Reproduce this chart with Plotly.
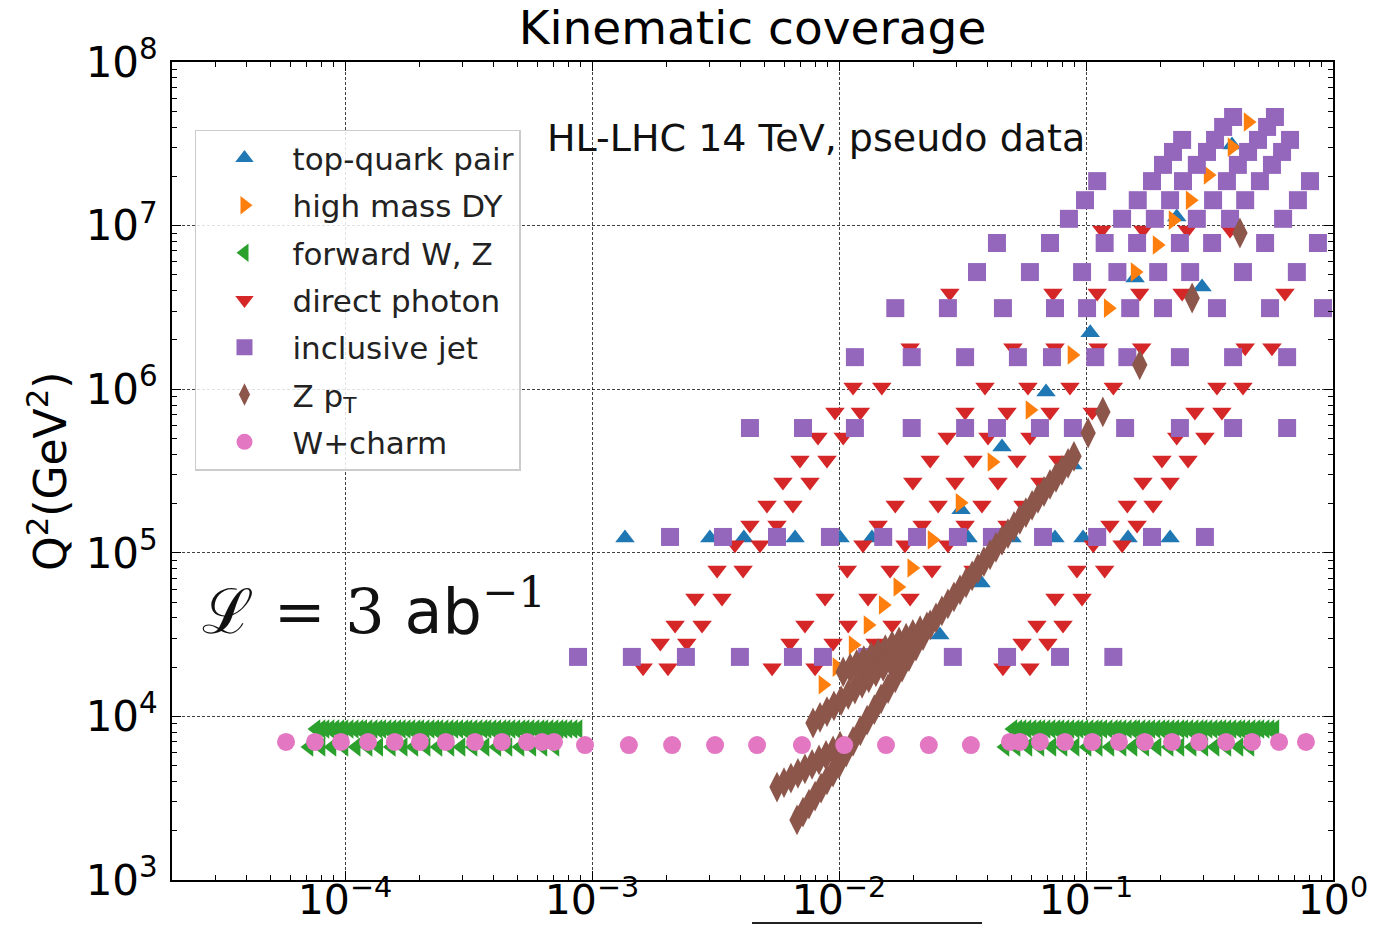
import plotly.graph_objects as go

# ---------------- data ----------------
# top-quark pair (x, Q^2)
top_x = [1.36e-3, 3.00e-3, 4.12e-3, 6.64e-3, 1.01e-2, 1.36e-2, 3.33e-2, 5.02e-2, 7.49e-2, 9.73e-2, 0.148, 0.219,
         2.56e-2, 3.12e-2, 3.76e-2, 4.57e-2, 6.89e-2, 8.85e-2, 0.104, 0.158, 0.233, 0.295, 0.390]
top_q2 = [1.23e5, 1.23e5, 1.23e5, 1.23e5, 1.23e5, 1.23e5, 1.23e5, 1.23e5, 1.23e5, 1.23e5, 1.23e5, 1.23e5,
          3.15e4, 1.83e5, 6.54e4, 4.43e5, 9.61e5, 3.44e5, 2.21e6, 4.78e6, 1.13e7, 4.22e6, 3.11e7]

# high mass Drell-Yan
dy_x = [8.61e-3, 9.81e-3, 1.14e-2, 1.31e-2, 1.51e-2, 1.73e-2, 1.97e-2, 2.38e-2, 3.09e-2, 4.16e-2,
        5.93e-2, 8.77e-2, 0.123, 0.158, 0.194, 0.225, 0.264, 0.312, 0.390, 0.453]
dy_q2 = [1.56e4, 2.00e4, 2.73e4, 3.62e4, 4.80e4, 6.18e4, 8.07e4, 1.20e5, 2.02e5, 3.59e5,
         7.46e5, 1.62e6, 3.13e6, 5.20e6, 7.61e6, 1.08e7, 1.43e7, 2.04e7, 3.02e7, 4.30e7]

# forward W, Z
fw_w_q2 = 6.50e3
fw_w_x = [7.15e-5, 8.00e-5, 8.86e-5, 9.91e-5, 1.11e-4, 1.24e-4, 1.37e-4, 1.54e-4, 1.72e-4, 1.90e-4, 2.13e-4,
          2.38e-4, 2.66e-4, 2.95e-4, 3.30e-4, 3.69e-4, 4.12e-4, 4.57e-4, 5.11e-4, 5.71e-4, 6.33e-4, 7.08e-4,
          4.70e-2, 5.21e-2, 5.82e-2, 6.51e-2, 7.28e-2, 8.07e-2, 9.03e-2, 0.101, 0.112, 0.125, 0.140,
          0.155, 0.173, 0.194, 0.217, 0.240, 0.269, 0.300, 0.333, 0.372, 0.416, 0.461]
fw_z_q2 = 8.37e3
fw_z_x = [7.63e-5, 8.00e-5, 8.30e-5, 8.70e-5, 9.11e-5, 9.54e-5, 9.91e-5, 1.04e-4, 1.09e-4, 1.14e-4,
          1.18e-4, 1.24e-4, 1.30e-4, 1.36e-4, 1.41e-4, 1.48e-4, 1.55e-4, 1.62e-4, 1.69e-4, 1.77e-4,
          1.85e-4, 1.94e-4, 2.01e-4, 2.11e-4, 2.21e-4, 2.31e-4, 2.40e-4, 2.52e-4, 2.64e-4, 2.76e-4,
          2.89e-4, 3.03e-4, 3.15e-4, 3.30e-4, 3.46e-4, 3.62e-4, 3.76e-4, 3.94e-4, 4.12e-4, 4.32e-4,
          4.49e-4, 4.70e-4, 4.92e-4, 5.16e-4, 5.36e-4, 5.61e-4, 5.88e-4, 6.16e-4, 6.39e-4, 6.70e-4,
          7.02e-4, 7.35e-4, 7.63e-4, 7.99e-4, 8.38e-4, 8.78e-4,
          5.06e-2, 5.30e-2, 5.51e-2, 5.77e-2, 6.05e-2, 6.33e-2, 6.57e-2, 6.89e-2, 7.22e-2, 7.56e-2,
          7.85e-2, 8.22e-2, 8.61e-2, 9.03e-2, 9.37e-2, 9.81e-2, 0.103, 0.108, 0.112, 0.117,
          0.123, 0.129, 0.134, 0.140, 0.147, 0.154, 0.159, 0.167, 0.175, 0.183,
          0.192, 0.201, 0.209, 0.219, 0.229, 0.240, 0.249, 0.261, 0.274, 0.287,
          0.298, 0.312, 0.327, 0.342, 0.355, 0.372, 0.390, 0.409, 0.424, 0.444,
          0.466, 0.488, 0.506, 0.531, 0.556, 0.582]

# direct photon: one Q^2 value per row, x values of that row
photon_row_q2 = [1.98e4, 2.81e4, 3.62e4, 5.29e4, 7.85e4, 1.12e5, 1.48e5, 1.96e5, 2.71e5, 3.69e5,
                 5.10e5, 7.26e5, 1.03e6, 1.79e6, 3.87e6, 9.40e6]
photon_row_x = [
    [1.61e-3, 2.03e-3, 5.36e-3, 8.00e-3, 4.61e-2, 5.93e-2],
    [1.89e-3, 2.42e-3, 6.33e-3, 9.46e-3, 1.40e-2, 5.51e-2, 7.01e-2],
    [2.17e-3, 2.79e-3, 7.28e-3, 1.09e-2, 1.64e-2, 6.33e-2, 8.07e-2],
    [2.61e-3, 3.36e-3, 8.78e-3, 1.31e-2, 1.94e-2, 7.49e-2, 9.64e-2],
    [3.21e-3, 4.09e-3, 1.08e-2, 1.61e-2, 2.38e-2, 3.49e-2, 9.19e-2, 0.119],
    [3.79e-3, 4.79e-3, 1.25e-2, 1.85e-2, 2.76e-2, 0.107, 0.140],
    [4.36e-3, 5.61e-3, 1.44e-2, 2.17e-2, 3.24e-2, 4.79e-2, 0.125, 0.161],
    [5.11e-3, 6.51e-3, 1.69e-2, 2.52e-2, 3.79e-2, 5.56e-2, 0.147, 0.187],
    [5.93e-3, 7.63e-3, 1.99e-2, 2.95e-2, 4.40e-2, 6.51e-2, 0.170, 0.219],
    [6.95e-3, 8.94e-3, 2.34e-2, 3.49e-2, 5.26e-2, 7.70e-2, 0.203, 0.259],
    [8.22e-3, 1.04e-2, 2.74e-2, 4.01e-2, 5.93e-2, 0.233, 0.303],
    [9.63e-3, 1.22e-2, 3.24e-2, 4.79e-2, 7.15e-2, 0.106, 0.276, 0.355],
    [1.14e-2, 1.49e-2, 3.90e-2, 5.82e-2, 8.61e-2, 0.129, 0.339, 0.432],
    [1.94e-2, 5.06e-2, 7.49e-2, 0.112, 0.168, 0.441, 0.566],
    [2.81e-2, 7.35e-2, 0.111, 0.165, 0.245, 0.639],
    [0.116, 0.170, 0.257, 0.383],
]

# inclusive jet: one Q^2 value per row, x values of that row
jet_row_q2 = [4.61e7, 4.01e7, 3.34e7, 2.82e7, 2.35e7, 1.87e7, 1.43e7, 1.10e7, 7.83e6, 5.20e6,
              3.13e6, 1.57e6, 5.79e5, 1.25e5, 2.31e4]
jet_row_x = [
    [0.394, 0.582],
    [0.359, 0.541],
    [0.245, 0.333, 0.497, 0.670],
    [0.225, 0.309, 0.453, 0.622],
    [0.205, 0.281, 0.412, 0.566],
    [0.111, 0.185, 0.247, 0.372, 0.506, 0.807],
    [0.0991, 0.162, 0.219, 0.327, 0.441, 0.721],
    [0.0853, 0.140, 0.190, 0.281, 0.383, 0.628],
    [0.0436, 0.0715, 0.119, 0.161, 0.240, 0.324, 0.531, 0.869],
    [0.0362, 0.0593, 0.0964, 0.134, 0.196, 0.264, 0.432, 0.714],
    [0.0169, 0.0276, 0.0461, 0.0749, 0.101, 0.151, 0.205, 0.339, 0.556, 0.911],
    [0.0116, 0.0197, 0.0324, 0.0530, 0.0728, 0.109, 0.147, 0.240, 0.394, 0.652],
    [0.00436, 0.00715, 0.0116, 0.0197, 0.0324, 0.0436, 0.0651, 0.0885, 0.144, 0.240, 0.394, 0.652],
    [0.00207, 0.00339, 0.00561, 0.00919, 0.0151, 0.0207, 0.0303, 0.0416, 0.0670, 0.111, 0.185, 0.303],
    [0.000878, 0.00145, 0.00240, 0.00397, 0.00651, 0.00861, 0.0130, 0.0289, 0.0479, 0.0785, 0.129],
]

# Z pT (dense bands of points)
zpt_x = [5.61e-3, 5.99e-3, 6.39e-3, 6.82e-3, 7.28e-3, 7.78e-3, 8.30e-3, 8.86e-3, 9.46e-3, 1.01e-2,
         6.76e-3, 7.15e-3, 7.56e-3, 8.00e-3, 8.46e-3, 8.94e-3, 9.46e-3, 1.00e-2,
         1.07e-2, 1.14e-2, 1.22e-2, 1.30e-2, 1.39e-2, 1.48e-2, 1.58e-2, 1.69e-2, 1.80e-2, 1.92e-2,
         2.05e-2, 2.19e-2, 2.34e-2,
         1.04e-2, 1.11e-2, 1.18e-2, 1.26e-2, 1.35e-2, 1.44e-2, 1.54e-2, 1.64e-2, 1.75e-2, 1.87e-2,
         1.99e-2, 2.13e-2, 2.27e-2,
         7.85e-3, 8.38e-3, 8.94e-3, 9.54e-3, 1.02e-2, 1.09e-2, 1.16e-2, 1.24e-2, 1.32e-2, 1.41e-2,
         1.51e-2, 1.61e-2, 1.72e-2, 1.83e-2, 1.96e-2,
         2.47e-2, 2.61e-2, 2.76e-2, 2.92e-2, 3.09e-2, 3.27e-2, 3.46e-2, 3.65e-2, 3.86e-2, 4.09e-2,
         4.32e-2, 4.57e-2, 4.83e-2, 5.11e-2, 5.40e-2, 5.71e-2, 6.05e-2, 6.39e-2, 6.76e-2, 7.15e-2,
         7.56e-2, 7.99e-2, 8.46e-2, 8.94e-2,
         0.102, 0.117, 0.165, 0.269, 0.420]
zpt_q2 = [3.70e3, 3.94e3, 4.20e3, 4.48e3, 4.78e3, 5.09e3, 5.42e3, 5.78e3, 6.16e3, 6.57e3,
          2.33e3, 2.60e3, 2.91e3, 3.26e3, 3.65e3, 4.09e3, 4.57e3, 5.12e3,
          6.06e3, 7.04e3, 8.17e3, 9.48e3, 1.10e4, 1.28e4, 1.48e4, 1.72e4, 2.00e4, 2.32e4,
          2.69e4, 3.12e4, 3.62e4,
          1.87e4, 1.97e4, 2.08e4, 2.19e4, 2.31e4, 2.43e4, 2.56e4, 2.71e4, 2.85e4, 3.01e4,
          3.17e4, 3.34e4, 3.52e4,
          9.11e3, 9.87e3, 1.07e4, 1.16e4, 1.25e4, 1.36e4, 1.47e4, 1.59e4, 1.72e4, 1.87e4,
          2.02e4, 2.19e4, 2.37e4, 2.57e4, 2.79e4,
          4.00e4, 4.42e4, 4.87e4, 5.38e4, 5.94e4, 6.56e4, 7.23e4, 8.00e4, 8.82e4, 9.73e4,
          1.08e5, 1.19e5, 1.31e5, 1.45e5, 1.60e5, 1.76e5, 1.95e5, 2.15e5, 2.37e5, 2.62e5,
          2.89e5, 3.19e5, 3.52e5, 3.89e5,
          5.40e5, 7.26e5, 1.41e6, 3.61e6, 9.01e6]

# W + charm
wc_x = [5.77e-5, 7.56e-5, 9.63e-5, 1.24e-4, 1.59e-4, 2.01e-4, 2.56e-4, 3.36e-4, 4.32e-4, 5.46e-4, 6.28e-4, 7.02e-4,
        9.37e-4, 1.41e-3, 2.11e-3, 3.15e-3, 4.66e-3, 7.08e-3, 1.05e-2, 1.55e-2, 2.31e-2, 3.42e-2,
        4.92e-2, 5.40e-2, 6.51e-2, 8.22e-2, 0.106, 0.136, 0.173, 0.223, 0.287, 0.369, 0.470, 0.605, 0.777]
wc_q2 = [6.98e3, 6.98e3, 6.98e3, 6.98e3, 6.98e3, 6.98e3, 6.98e3, 6.98e3, 6.98e3, 6.98e3, 6.98e3, 6.98e3,
         6.68e3, 6.68e3, 6.68e3, 6.68e3, 6.68e3, 6.68e3, 6.68e3, 6.68e3, 6.68e3, 6.68e3,
         6.98e3, 6.98e3, 6.98e3, 6.98e3, 6.98e3, 6.98e3, 6.98e3, 6.98e3, 6.98e3, 6.98e3, 6.98e3, 6.98e3, 6.98e3]

# axis ticks
x_tick_vals = [1e-4, 1e-3, 1e-2, 1e-1, 1e0]
x_tick_text = ["10<sup>\u22124</sup>", "10<sup>\u22123</sup>", "10<sup>\u22122</sup>",
               "10<sup>\u22121</sup>", "10<sup>0</sup>"]
y_tick_vals = [1e3, 1e4, 1e5, 1e6, 1e7, 1e8]
y_tick_text = ["10<sup>3</sup>", "10<sup>4</sup>", "10<sup>5</sup>", "10<sup>6</sup>",
               "10<sup>7</sup>", "10<sup>8</sup>"]
x_minor = [k * 10.0 ** d for d in range(-5, 0) for k in range(2, 10) if k * 10.0 ** d > 2e-5]
y_minor = [k * 10.0 ** d for d in range(3, 8) for k in range(2, 10)]

# ---------------- flatten row-based series ----------------
photon_x, photon_q2 = [], []
for q, xs in zip(photon_row_q2, photon_row_x):
    photon_x += xs
    photon_q2 += [q] * len(xs)

jet_x, jet_q2 = [], []
for q, xs in zip(jet_row_q2, jet_row_x):
    jet_x += xs
    jet_q2 += [q] * len(xs)

fw_x = fw_z_x + fw_w_x
fw_q2 = [fw_z_q2] * len(fw_z_x) + [fw_w_q2] * len(fw_w_x)

# ---------------- figure ----------------
FONT = "DejaVu Sans"
fig = go.Figure()


def add(name, xs, ys, color, symbol, size):
    fig.add_trace(go.Scatter(
        x=xs, y=ys, mode="markers", name=name, legendgroup=name,
        marker=dict(color=color, symbol=symbol, size=size, line=dict(width=0)),
    ))


add("top-quark pair", top_x, top_q2, "#1f77b4", "triangle-up", 17)
add("high mass DY", dy_x, dy_q2, "#ff7f0e", "triangle-right", 17)
add("forward W, Z", fw_x, fw_q2, "#2ca02c", "triangle-left", 17)
add("direct photon", photon_x, photon_q2, "#d62728", "triangle-down", 17)
add("inclusive jet", jet_x, jet_q2, "#9467bd", "square", 18)
add("Z p<sub>T</sub>", zpt_x, zpt_q2, "#8c564b", "diamond-tall", 22)
add("W+charm", wc_x, wc_q2, "#e377c2", "circle", 18)

axis_common = dict(
    type="log", showline=True, linecolor="black", linewidth=1.6, mirror="allticks",
    ticks="inside", ticklen=9, tickwidth=1.4, tickcolor="black", automargin=False,
    showgrid=True, gridcolor="rgba(0,0,0,0.75)", gridwidth=1, griddash="3px,2px",
    zeroline=False, tickfont=dict(family=FONT, size=42, color="black"),
)

fig.update_xaxes(
    **axis_common, range=[-4.7004, 0], tickmode="array", tickvals=x_tick_vals, ticktext=x_tick_text,
    minor=dict(tickmode="array", tickvals=x_minor, ticks="inside", ticklen=5, tickwidth=1,
               tickcolor="black", showgrid=False),
    ticklabelstandoff=-17,
)
fig.update_xaxes(tickfont=dict(family=FONT, size=41, color="black"))
fig.update_yaxes(
    **axis_common, range=[3, 8], tickmode="array", tickvals=y_tick_vals, ticktext=y_tick_text,
    minor=dict(tickmode="array", tickvals=y_minor, ticks="inside", ticklen=5, tickwidth=1,
               tickcolor="black", showgrid=False),
    ticklabelstandoff=4,
)

fig.update_layout(
    width=1388, height=926,
    margin=dict(l=172, r=55, t=62, b=46),
    paper_bgcolor="white", plot_bgcolor="white",
    font=dict(family=FONT, color="black"),
    title=dict(text="Kinematic coverage", x=0.5, xref="paper", y=1 - 28 / 926, yref="container",
               yanchor="middle", xanchor="center", font=dict(family=FONT, size=47, color="black")),
    showlegend=True,
    legend=dict(
        x=0.0198, y=0.917, xanchor="left", yanchor="top",
        bgcolor="rgba(255,255,255,0.85)", bordercolor="#cccccc", borderwidth=1.5,
        font=dict(family=FONT, size=31, color="#222222"),
        itemsizing="trace", tracegroupgap=4, itemwidth=86,
    ),
    annotations=[
        dict(text="HL-LHC 14 TeV, pseudo data", x=0.3213, y=0.907, xref="paper", yref="paper",
             xanchor="left", yanchor="middle", showarrow=False,
             font=dict(family=FONT, size=38, color="#111111")),
        dict(text="\u2112 = 3 <span style='font-family:DejaVu Sans'>ab</span><sup>\u22121</sup>",
             x=0.0241, y=0.333, xref="paper", yref="paper",
             xanchor="left", yanchor="middle", showarrow=False,
             font=dict(family="DejaVu Serif", size=62, color="#111111")),
        dict(text="Q<sup>2</sup>(GeV<sup>2</sup>)", x=-0.1077, y=0.5, xref="paper", yref="paper",
             xanchor="center", yanchor="middle", textangle=-90, showarrow=False,
             font=dict(family=FONT, size=44, color="black")),
    ],
    shapes=[
        dict(type="line", xref="paper", yref="paper", x0=0.4996, x1=0.6977, y0=-0.0526, y1=-0.0526,
             line=dict(color="#222222", width=2)),
    ],
)

fig.write_html("out.html")
